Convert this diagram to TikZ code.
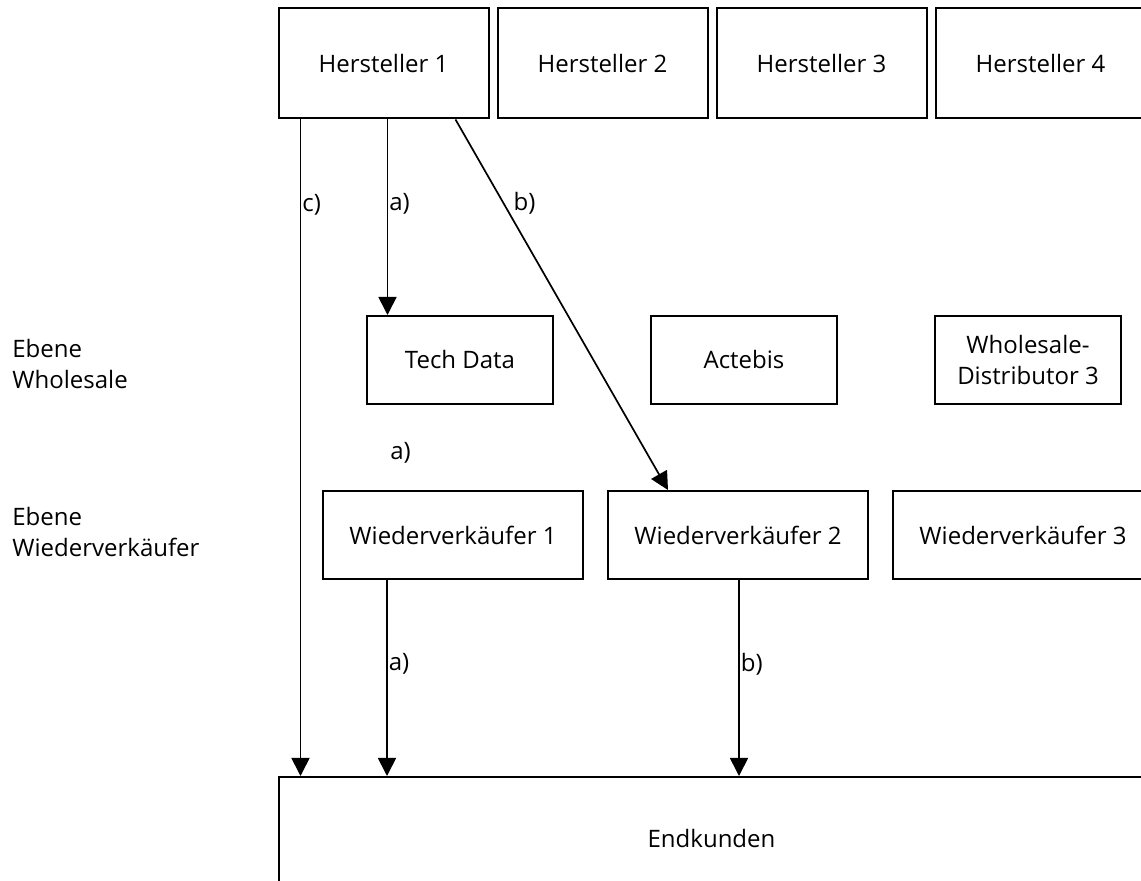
\documentclass[tikz,border=0pt]{standalone}
\usepackage{fontspec}
\setmainfont{Open Sans}
\usepackage{tikz}
\usetikzlibrary{arrows.meta, positioning}

\begin{document}
\begin{tikzpicture}[
    x=0.5pt, y=-0.5pt,
    font=\fontsize{12}{15.5}\selectfont,
    node distance=3.5pt,
    maker/.style   ={rectangle, draw=black, line width=1pt, minimum width=105pt,
                     minimum height=55pt, inner sep=0pt, align=center},
    whole/.style   ={rectangle, draw=black, line width=1pt, minimum width=93pt,
                     minimum height=44pt, inner sep=0pt, align=center},
    reseller/.style={rectangle, draw=black, line width=1pt, minimum width=130pt,
                     minimum height=44pt, inner sep=0pt, align=center},
    customer/.style={rectangle, draw=black, line width=1pt, minimum width=432.5pt,
                     minimum height=61pt, inner sep=0pt, align=center},
    level/.style   ={inner sep=0pt, align=left, anchor=west},
    tag/.style     ={inner sep=0.5pt, anchor=west},
    arrow/.style   ={-{Triangle[length=9pt,width=9pt]}, line width=0.85pt, color=black}
]
\clip (0,0) rectangle (1141,881);

% Hersteller
\node[maker] (h1) at (383.5,63.5) {Hersteller 1};
\node[maker, right=of h1] (h2) {Hersteller 2};
\node[maker, right=of h2] (h3) {Hersteller 3};
\node[maker, right=of h3] (h4) {Hersteller 4};

% Wholesale
\node[whole] (td) at (460,360) {Tech Data};
\node[whole, right=48pt of td] (actebis) {Actebis};
\node[whole, right=48pt of actebis] (wd3) {Wholesale-\\Distributor 3};

% Wiederverkaeufer
\node[reseller] (w1) at (453,535) {Wiederverkäufer 1};
\node[reseller, right=11.5pt of w1] (w2) {Wiederverkäufer 2};
\node[reseller, right=11.5pt of w2] (w3) {Wiederverkäufer 3};

\node[customer, anchor=north west] (cust) at (278,776) {Endkunden};

\node[level] (lvlwhole) at (12,364) {Ebene\\Wholesale};
\node[level] (lvlres) at (12,532) {Ebene\\Wiederverkäufer};

\coordinate (hc) at ([xshift=11.5pt]h1.south west);
\coordinate (ha) at ([xshift=55pt]h1.south west);
\coordinate (hb) at ([xshift=89pt]h1.south west);
\coordinate (wb) at ([xshift=30.5pt]w2.north west);
\coordinate (wa) at ([xshift=32.5pt]w1.south west);
\coordinate (wc) at ([xshift=66pt]w2.south west);

\draw[arrow] (hc) -- (hc |- cust.north) node[tag, pos=0.13] {c)};
\draw[arrow] (ha) -- (ha |- td.north) node[tag, pos=0.43] {a)};
\draw[arrow] (hb) -- (wb) node[tag, pos=0.227, xshift=4pt] {b)};
\draw[arrow] (wa) -- (wa |- cust.north) node[tag, pos=0.43] {a)};
\draw[arrow] (wc) -- (wc |- cust.north) node[tag, pos=0.43] {b)};

\node[tag] (tdlbl) at (389,453) {a)};
\end{tikzpicture}
\end{document}
